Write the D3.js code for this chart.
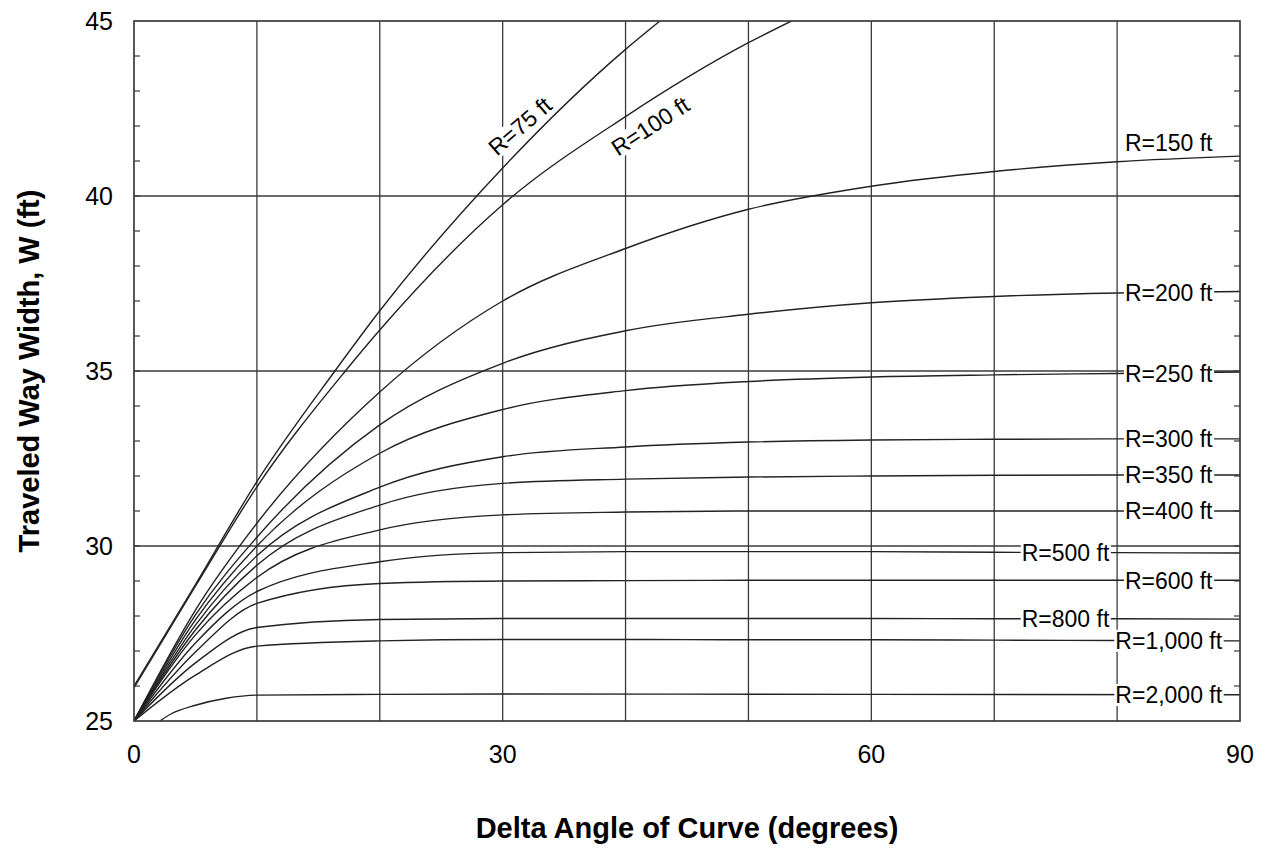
<!DOCTYPE html>
<html lang="en">
<head>
  <meta charset="utf-8" />
  <title>Traveled Way Width vs Delta Angle</title>
  <script src="https://d3js.org/d3.v7.min.js"></script>
  <style>
    body {
      margin: 0;
      padding: 0;
      background: #ffffff;
      font-family: "Liberation Sans", Arial, sans-serif;
    }
    .grid line { stroke: #3a3a3a; stroke-width: 1.3; }
    .frame { fill: none; stroke: #3a3a3a; stroke-width: 1.7; }
    .minor line { stroke: #3a3a3a; stroke-width: 1.2; }
    .curve { fill: none; stroke: #222; stroke-width: 1.4; }
    .tick-label { font-size: 25px; fill: #000; }
    .curve-label { font-size: 23px; fill: #000; }
    .axis-title { font-size: 29px; font-weight: bold; fill: #000; }
  </style>
</head>
<body>
<div id="chart"></div>
<script>
/* ---- data ---- */
const commonAngles = [0, 5, 10, 20, 30, 40, 50, 60, 70, 80, 90];

const anglesR75  = [0, 5, 10, 16.35, 20, 30, 40, 42.8];
const widthR75   = [26.0, 28.9, 31.84, 35.0, 36.72, 40.8, 44.19, 45.0];
const anglesR100 = [0, 5, 10, 17.2, 20, 30, 40, 50, 53.5];
const widthR100  = [25.95, 28.85, 31.69, 35.0, 36.17, 39.75, 42.27, 44.38, 45.0];

const widthR150  = [25, 28.17, 30.65, 34.4, 37.0, 38.5, 39.62, 40.28, 40.7, 40.98, 41.14];
const widthR200  = [25, 28.03, 30.25, 33.46, 35.22, 36.15, 36.62, 36.95, 37.13, 37.23, 37.27];
const widthR250  = [25, 27.89, 30.0, 32.65, 33.9, 34.44, 34.7, 34.83, 34.89, 34.93, 34.97];
const widthR300  = [25, 27.74, 29.72, 31.68, 32.55, 32.83, 32.97, 33.03, 33.05, 33.06, 33.06];
const widthR350  = [25, 27.6, 29.45, 31.17, 31.79, 31.91, 31.97, 32.0, 32.02, 32.03, 32.03];
const widthR400  = [25, 27.46, 29.1, 30.46, 30.89, 30.97, 31.0, 31.0, 31.0, 31.0, 31.0];
const widthR500  = [25, 27.23, 28.7, 29.55, 29.81, 29.84, 29.84, 29.84, 29.82, 29.81, 29.8];
const widthR600  = [25, 26.97, 28.36, 28.93, 29.0, 29.01, 29.02, 29.02, 29.02, 29.02, 29.02];
const widthR800  = [25, 26.66, 27.67, 27.9, 27.93, 27.93, 27.93, 27.93, 27.92, 27.92, 27.91];
const widthR1000 = [25, 26.31, 27.14, 27.29, 27.33, 27.33, 27.32, 27.32, 27.31, 27.3, 27.29];

const anglesR2000 = [2.1, 3, 5, 7.5, 10, 20, 30, 60, 90];
const widthR2000  = [25.0, 25.2, 25.45, 25.65, 25.74, 25.76, 25.77, 25.76, 25.75];

const curveLabels  = ["R=75 ft", "R=100 ft", "R=150 ft", "R=200 ft", "R=250 ft", "R=300 ft",
                      "R=350 ft", "R=400 ft", "R=500 ft", "R=600 ft", "R=800 ft", "R=1,000 ft", "R=2,000 ft"];
const labelAngles  = [31.4, 42.0, 84.2, 84.2, 84.2, 84.2, 84.2, 84.2, 75.8, 84.2, 75.8, 84.2, 84.2];
const labelWidths  = [42.0, 42.0, 41.51, 37.24, 34.93, 33.06, 32.03, 31.0, 29.81, 29.02, 27.92, 27.3, 25.75];
const labelTilt    = [-41, -33, 0, 0, 0, 0, 0, 0, 0, 0, 0, 0, 0];

const xTickValues = [0, 30, 60, 90];
const yTickValues = [25, 30, 35, 40, 45];

/* ---- assemble series ---- */
const series = [
  { xs: anglesR75,    ys: widthR75 },
  { xs: anglesR100,   ys: widthR100 },
  { xs: commonAngles, ys: widthR150 },
  { xs: commonAngles, ys: widthR200 },
  { xs: commonAngles, ys: widthR250 },
  { xs: commonAngles, ys: widthR300 },
  { xs: commonAngles, ys: widthR350 },
  { xs: commonAngles, ys: widthR400 },
  { xs: commonAngles, ys: widthR500 },
  { xs: commonAngles, ys: widthR600 },
  { xs: commonAngles, ys: widthR800 },
  { xs: commonAngles, ys: widthR1000 },
  { xs: anglesR2000,  ys: widthR2000 }
].map(s => s.xs.map((a, i) => ({ a: a, w: s.ys[i] })));

/* ---- layout ---- */
const svgW = 1267, svgH = 848;
const plotL = 134, plotR = 1240, plotT = 21, plotB = 721;

const x = d3.scaleLinear().domain([0, 90]).range([plotL, plotR]);
const y = d3.scaleLinear().domain([25, 45]).range([plotB, plotT]);

const svg = d3.select("#chart").append("svg")
  .attr("width", svgW).attr("height", svgH);

svg.append("defs").append("clipPath").attr("id", "plotClip")
  .append("rect")
  .attr("x", plotL).attr("y", plotT)
  .attr("width", plotR - plotL).attr("height", plotB - plotT);

// gridlines
const grid = svg.append("g").attr("class", "grid");
grid.selectAll(".vg").data(d3.range(10, 90, 10)).enter().append("line")
  .attr("x1", d => x(d)).attr("x2", d => x(d))
  .attr("y1", plotT).attr("y2", plotB);
grid.selectAll(".hg").data([30, 35, 40]).enter().append("line")
  .attr("x1", plotL).attr("x2", plotR)
  .attr("y1", d => y(d)).attr("y2", d => y(d));

// curves
const line = d3.line()
  .x(d => x(d.a))
  .y(d => y(d.w))
  .curve(d3.curveMonotoneX);

svg.append("g").attr("clip-path", "url(#plotClip)")
  .selectAll("path").data(series).enter().append("path")
  .attr("class", "curve")
  .attr("d", line);

// curve labels with white boxes
const labels = svg.append("g");
curveLabels.forEach((txt, i) => {
  const g = labels.append("g")
    .attr("transform", `translate(${x(labelAngles[i])},${y(labelWidths[i])}) rotate(${labelTilt[i]})`);
  const t = g.append("text")
    .attr("class", "curve-label")
    .attr("text-anchor", "middle")
    .attr("dy", "0.36em")
    .text(txt);
  const bb = t.node().getBBox();
  g.insert("rect", "text")
    .attr("x", bb.x - 1).attr("y", bb.y + 2)
    .attr("width", bb.width + 2).attr("height", bb.height - 4)
    .attr("fill", "#fff");
});

// minor ticks, inside left and right
const minor = svg.append("g").attr("class", "minor");
const minorVals = d3.range(26, 45, 1);
minor.selectAll(".ml").data(minorVals).enter().append("line")
  .attr("x1", plotL).attr("x2", plotL + 6)
  .attr("y1", d => y(d)).attr("y2", d => y(d));
minor.selectAll(".mr").data(minorVals).enter().append("line")
  .attr("x1", plotR - 6).attr("x2", plotR)
  .attr("y1", d => y(d)).attr("y2", d => y(d));

// frame
svg.append("rect").attr("class", "frame")
  .attr("x", plotL).attr("y", plotT)
  .attr("width", plotR - plotL).attr("height", plotB - plotT);

// tick labels
svg.append("g").selectAll("text").data(yTickValues).enter().append("text")
  .attr("class", "tick-label")
  .attr("x", plotL - 21).attr("y", d => y(d))
  .attr("dy", "0.36em")
  .attr("text-anchor", "end")
  .text(d => d);

svg.append("g").selectAll("text").data(xTickValues).enter().append("text")
  .attr("class", "tick-label")
  .attr("x", d => x(d)).attr("y", plotB + 33)
  .attr("dy", "0.36em")
  .attr("text-anchor", "middle")
  .text(d => d);

// axis titles
svg.append("text").attr("class", "axis-title")
  .attr("x", (plotL + plotR) / 2).attr("y", 838)
  .attr("text-anchor", "middle")
  .text("Delta Angle of Curve (degrees)");

svg.append("text").attr("class", "axis-title")
  .attr("transform", `translate(39,${(plotT + plotB) / 2}) rotate(-90)`)
  .attr("text-anchor", "middle")
  .text("Traveled Way Width, W (ft)");
</script>
</body>
</html>
